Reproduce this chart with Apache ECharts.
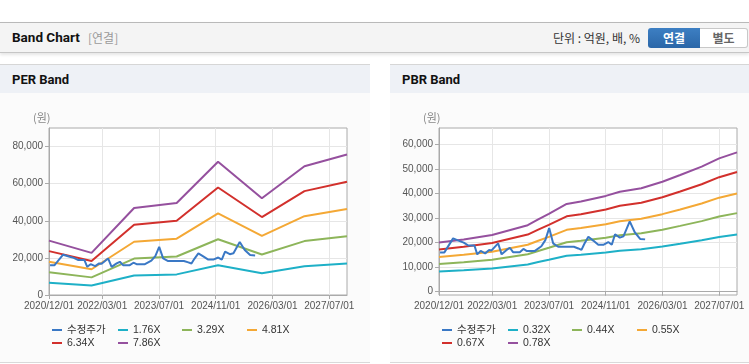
<!DOCTYPE html>
<html><head><meta charset="utf-8">
<script src="https://cdn.jsdelivr.net/npm/echarts@6/dist/echarts.min.js"></script>
<style>
html,body{margin:0;padding:0}
body{width:749px;height:364px;overflow:hidden;background:#fff;position:relative;font-family:Roboto,'Noto Sans CJK KR',sans-serif}
.abs{position:absolute}
#hdr{left:0;top:22px;width:749px;height:29px;background:#f4f4f4;border-top:1px solid #b9b9b9;border-bottom:1px solid #c6c6c6;box-shadow:0 2px 3px rgba(0,0,0,.10)}
#hdrTitle{left:12px;top:23px;line-height:29px;font-size:13.5px;font-weight:bold;color:#111}
#hdrSub{left:88px;top:23px;line-height:29px;font-size:12px;color:#9a9a9a;font-family:'Noto Sans CJK KR',sans-serif}
#unit{left:553px;top:23px;line-height:29px;font-size:12px;color:#333;font-family:'Noto Sans CJK KR',sans-serif}
#btn1{left:648px;top:28px;width:52px;height:20px;line-height:20px;text-align:center;font-size:12px;font-weight:bold;color:#fff;background:linear-gradient(#3d7fc3,#2b67a8);border-radius:3px 0 0 3px;font-family:'Noto Sans CJK KR',sans-serif}
#btn2{left:700px;top:28px;width:47px;height:18px;line-height:18px;text-align:center;font-size:12px;font-weight:bold;color:#666;background:#fff;border:1px solid #c8c8c8;border-left:none;border-radius:0 3px 3px 0;font-family:'Noto Sans CJK KR',sans-serif}
.phead{top:64px;height:28px;background:#eef1f6;border-top:1px solid #d6d6d6}
.ptitle{position:absolute;left:12px;top:0;line-height:29px;font-size:13px;font-weight:bold;color:#111}
.pbody{top:93px;height:269px;background:#fbfbfb;border-bottom:1px solid #d9d9d9}
</style></head>
<body>
<div id="hdr" class="abs"></div>
<div id="hdrTitle" class="abs">Band Chart</div>
<div id="hdrSub" class="abs">[연결]</div>
<div id="unit" class="abs">단위 : 억원, 배, %</div>
<div id="btn1" class="abs">연결</div>
<div id="btn2" class="abs">별도</div>

<div class="abs phead" style="left:0;width:370px"><span class="ptitle">PER Band</span></div>
<div class="abs phead" style="left:390px;width:359px"><span class="ptitle">PBR Band</span></div>
<div class="abs pbody" style="left:0;width:370px"></div>
<div class="abs pbody" style="left:390px;width:359px"></div>
<div id="perChart" class="abs" style="left:0;top:93px;width:370px;height:269px"></div>
<div id="pbrChart" class="abs" style="left:390px;top:93px;width:359px;height:269px"></div>

<script>
// ---- data ----
const tickLabels = ['2020/12/01','2022/03/01','2023/07/01','2024/11/01','2026/03/01','2027/07/01'];

const priceName = '수정주가';
const priceDates = ['2020-12-10','2021-01-16','2021-04-01','2021-05-28','2021-07-01','2021-08-10','2021-10-01','2021-10-25','2021-11-23','2022-01-01','2022-02-04','2022-02-25','2022-04-22','2022-05-22','2022-07-04','2022-08-01','2022-08-28','2022-10-25','2022-11-25','2022-12-22','2023-03-04','2023-04-28','2023-06-01','2023-07-04','2023-08-07','2023-09-19','2023-12-01','2024-02-01','2024-03-10','2024-04-06','2024-05-01','2024-06-04','2024-07-16','2024-08-28','2024-10-10','2024-11-22','2024-12-22','2025-01-19','2025-03-01','2025-04-01','2025-05-25','2025-07-07','2025-08-22','2025-10-04'];
const priceValues = [16000,16000,21700,20600,20000,18800,18800,15200,16600,15600,17000,16800,19700,15200,17000,17900,16100,16100,17400,16600,16600,18500,21000,25900,19700,18300,18300,18300,17600,17000,19500,22400,20800,19100,19100,20200,19100,23400,22000,22500,28600,24200,21500,21300];

const perNames = ['1.76X','3.29X','4.81X','6.34X','7.86X'];
const perDates = ['2020-12-01','2021-12-01','2022-12-01','2023-12-01','2024-11-20','2025-12-01','2026-12-01','2027-12-01'];
const per176 = [6560,5080,10500,11110,16080,11670,15540,16950];
const per329 = [12270,9500,19630,20760,30050,21810,29050,31690];
const per481 = [17930,13890,28700,30350,43940,31880,42470,46330];
const per634 = [23640,18310,37830,40010,57920,42020,55980,61060];
const per786 = [29300,22700,46900,49600,71800,52100,69400,75700];
const perYTicks = [0,20000,40000,60000,80000];

const pbrNames = ['0.32X','0.44X','0.55X','0.67X','0.78X'];
const pbrDates = ['2020-12-01','2021-07-01','2022-03-01','2023-01-01','2023-04-01','2023-07-01','2023-12-01','2024-04-01','2024-11-01','2025-03-01','2025-09-01','2026-03-01','2026-08-01','2027-02-01','2027-07-01','2027-12-01'];
const pbr032 = [8200,8740,9470,11100,12060,12990,14660,15070,16000,16700,17280,18370,19490,20900,22270,23260];
const pbr044 = [11280,12010,13020,15270,16590,17860,20150,20720,22000,22970,23760,25260,26800,28730,30620,31990];
const pbr055 = [14100,15020,16280,19090,20740,22330,25190,25910,27500,28710,29700,31570,33500,35920,38280,39990];
const pbr067 = [17180,18290,19830,23250,25260,27200,30690,31560,33500,34970,36180,38460,40800,43750,46630,48710];
const pbr078 = [20000,21290,23090,27070,29410,31670,35720,36740,39000,40720,42120,44770,47500,50930,54290,56710];
const pbrYTicks = [0,10000,20000,30000,40000,50000,60000];

const colors = ['#3a78c5','#1eb0c7','#8db55a','#f4a835','#d2302c','#95509e'];

// monthly categories for the visible date axis
const monthCats = [];
for (let i = 0; i <= 84; i++) {
  const t = 2020 * 12 + 11 + i;
  const yr = Math.floor(t / 12), mo = t % 12 + 1;
  monthCats.push(yr + '/' + String(mo).padStart(2, '0') + '/01');
}
const isTick = (idx, val) => tickLabels.indexOf(monthCats[idx]) >= 0;
const fmt = v => String(v).replace(/\B(?=(\d{3})+(?!\d))/g, ',');
const FONT = "'Liberation Sans','Noto Sans CJK KR',sans-serif";

function pairs(dates, vals) { return dates.map((d, i) => [d, vals[i]]); }

function build(bandNames, bandDates, bandVals, yMin, yMax, yTicks) {
  const names = [priceName].concat(bandNames);
  const series = bandNames.map((n, i) => ({
    name: n, type: 'line', xAxisIndex: 1, showSymbol: false, symbol: 'none',
    data: pairs(bandDates, bandVals[i]),
    lineStyle: { width: 2, color: colors[i + 1] }, itemStyle: { color: colors[i + 1] }, z: 2
  }));
  series.push({
    name: priceName, type: 'line', xAxisIndex: 1, showSymbol: false, symbol: 'none',
    data: pairs(priceDates, priceValues),
    lineStyle: { width: 2, color: colors[0] }, itemStyle: { color: colors[0] }, z: 3
  });
  const legPos = [[52, 231], [118, 231], [182, 231], [247, 231], [52, 244], [118, 244]];
  const legends = names.map((n, i) => ({
    data: [n], left: legPos[i][0], top: legPos[i][1], icon: 'rect', itemWidth: 10, itemHeight: 2,
    padding: 0, itemGap: 0, textStyle: { fontSize: 10.5, color: '#333', fontFamily: FONT, lineHeight: 12 }
  }));
  return {
    animation: false,
    textStyle: { fontFamily: FONT },
    grid: { left: 49, top: 35, width: 298, height: 167, show: true, borderColor: '#aaaaaa', borderWidth: 1, backgroundColor: '#ffffff' },
    graphic: [{ type: 'text', left: 33, top: 19, style: { text: '(원)', fontSize: 11, fill: '#888', fontFamily: "'Noto Sans CJK KR',sans-serif" } }],
    legend: legends,
    xAxis: [{
      type: 'category', data: monthCats, boundaryGap: false,
      axisLine: { lineStyle: { color: '#aaaaaa' } },
      axisTick: { show: true, interval: isTick, length: 4, lineStyle: { color: '#aaaaaa' } },
      axisLabel: { interval: isTick, fontSize: 10, color: '#555', margin: 6, fontFamily: FONT },
      splitLine: { show: true, interval: isTick, lineStyle: { color: '#e6e6e6' } }
    }, {
      type: 'time', min: '2020-12-01', max: '2027-12-01', show: false
    }],
    yAxis: {
      type: 'value', min: yMin, max: yMax,
      axisLine: { show: true, lineStyle: { color: '#aaaaaa' } },
      axisTick: { show: true, length: 4, customValues: yTicks, lineStyle: { color: '#aaaaaa' } },
      axisLabel: { customValues: yTicks, formatter: fmt, fontSize: 10, color: '#555', margin: 6, fontFamily: FONT },
      splitLine: { show: true, lineStyle: { color: '#e6e6e6' } }
    },
    series: series
  };
}

const perChart = echarts.init(document.getElementById('perChart'), null, { renderer: 'canvas' });
perChart.setOption(build(perNames, perDates, [per176, per329, per481, per634, per786], 0, 90000, perYTicks));
const pbrChart = echarts.init(document.getElementById('pbrChart'), null, { renderer: 'canvas' });
pbrChart.setOption(build(pbrNames, pbrDates, [pbr032, pbr044, pbr055, pbr067, pbr078], -1350, 66650, pbrYTicks));
</script>
</body></html>
